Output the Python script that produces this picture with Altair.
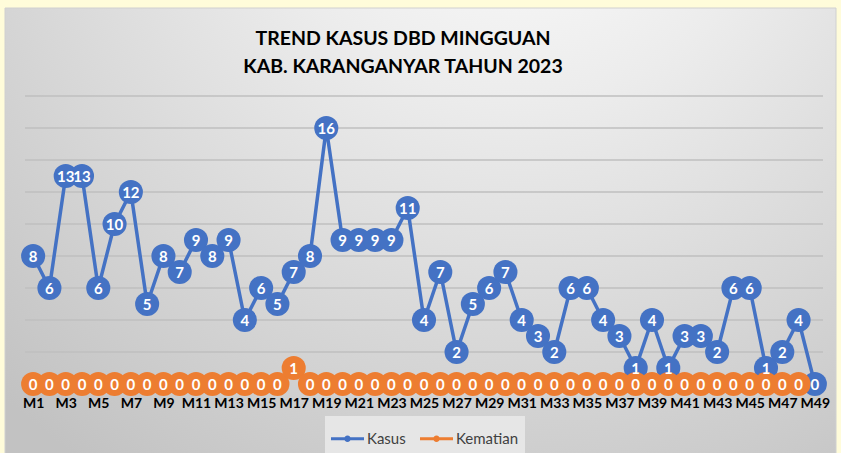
import altair as alt
import pandas as pd

weeks = ["M1", "M2", "M3", "M4", "M5", "M6", "M7", "M8", "M9", "M10",
         "M11", "M12", "M13", "M14", "M15", "M16", "M17", "M18", "M19", "M20",
         "M21", "M22", "M23", "M24", "M25", "M26", "M27", "M28", "M29", "M30",
         "M31", "M32", "M33", "M34", "M35", "M36", "M37", "M38", "M39", "M40",
         "M41", "M42", "M43", "M44", "M45", "M46", "M47", "M48", "M49"]
kasus = [8, 6, 13, 13, 6, 10, 12, 5, 8, 7,
         9, 8, 9, 4, 6, 5, 7, 8, 16, 9,
         9, 9, 9, 11, 4, 7, 2, 5, 6, 7,
         4, 3, 2, 6, 6, 4, 3, 1, 4, 1,
         3, 3, 2, 6, 6, 1, 2, 4, 0]
kematian = [0, 0, 0, 0, 0, 0, 0, 0, 0, 0,
            0, 0, 0, 0, 0, 0, 1, 0, 0, 0,
            0, 0, 0, 0, 0, 0, 0, 0, 0, 0,
            0, 0, 0, 0, 0, 0, 0, 0, 0, 0,
            0, 0, 0, 0, 0, 0, 0, 0, None]
series_names = ["Kasus", "Kematian"]
series_colors = ["#4472C4", "#ED7D31"]
y_ticks = [2, 4, 6, 8, 10, 12, 14, 16, 18]
x_labels = ["M1", "M3", "M5", "M7", "M9", "M11", "M13", "M15", "M17", "M19",
            "M21", "M23", "M25", "M27", "M29", "M31", "M33", "M35", "M37", "M39",
            "M41", "M43", "M45", "M47", "M49"]
title_lines = ["TREND KASUS DBD MINGGUAN", "KAB. KARANGANYAR TAHUN 2023"]

rows = []
for w, v in zip(weeks, kasus):
    rows.append({"week": w, "series": "Kasus", "value": v})
for w, v in zip(weeks, kematian):
    rows.append({"week": w, "series": "Kematian", "value": v})
df = pd.DataFrame(rows)
grid_df = pd.DataFrame({"tick": y_ticks})

FONT = "Lato"
W, H = 798, 288

x_enc = alt.X("week:O", sort=weeks,
              scale=alt.Scale(type="point", padding=0.5),
              axis=alt.Axis(values=x_labels, title=None, domain=False, ticks=False,
                            grid=False, labelAngle=0, labelFont=FONT,
                            labelFontWeight="bold", labelFontSize=14,
                            labelColor="#000000", labelPadding=19,
                            labelBaseline="middle", labelOverlap=False, zindex=1))
y_scale = alt.Scale(domain=[0, 18], nice=False, zero=True)
y_enc = alt.Y("value:Q", scale=y_scale, axis=None)
color_scale = alt.Scale(domain=series_names, range=series_colors)

legend_path = ("M-1,-0.09 L1,-0.09 L1,0.09 L-1,0.09 Z "
               "M0.2,0 A0.2,0.2 0 1,1 -0.2,0 A0.2,0.2 0 1,1 0.2,0 Z")
legend = alt.Legend(title=None, orient="none", legendX=300, legendY=320,
                    direction="horizontal", symbolType=legend_path, symbolSize=1089,
                    symbolStrokeWidth=0, symbolOpacity=1, labelFont=FONT,
                    labelFontSize=15, labelColor="#404040", fillColor="#e6e6e6",
                    padding=6, columnPadding=14, labelOffset=3)

bg = alt.Chart(alt.Data(values=[{"panel": 1}])).mark_rect(
    fill=alt.RadialGradient(
        gradient="radial",
        stops=[alt.GradientStop(color="#ffffff", offset=0),
               alt.GradientStop(color="#ececec", offset=0.35),
               alt.GradientStop(color="#c2c2c2", offset=1)],
        x1=0.62, y1=0.02, r1=0, x2=0.62, y2=0.02, r2=0.92),
    stroke="#d0d0d0", strokeWidth=1
).encode(x=alt.value(-20), x2=alt.value(811), y=alt.value(-88), y2=alt.value(362))

grid = alt.Chart(grid_df).mark_rule(color="#bfbfbf", strokeWidth=1.5).encode(
    y=alt.Y("tick:Q", scale=y_scale, axis=None))

base = alt.Chart(df)

def series_layers(name, col):
    sub = base.transform_filter(f"datum.series == '{name}' && datum.value != null")
    line = sub.mark_line(color=col, strokeWidth=3.5).encode(x=x_enc, y=y_enc)
    pts = sub.mark_circle(size=580, opacity=1).encode(
        x=x_enc, y=y_enc,
        color=alt.Color("series:N", scale=color_scale, legend=legend))
    txt = sub.mark_text(font=FONT, fontWeight="bold", fontSize=15, color="white",
                        align="center", baseline="middle", dy=1).encode(
        x=x_enc, y=y_enc, text=alt.Text("value:Q"))
    return line, pts, txt

k_line, k_pts, k_txt = series_layers("Kasus", series_colors[0])
m_line, m_pts, m_txt = series_layers("Kematian", series_colors[1])

chart = alt.layer(bg, grid, k_line, k_pts, m_line, m_pts, k_txt, m_txt).properties(
    width=W, height=H,
    title=alt.TitleParams(text=title_lines, font=FONT, fontSize=19.5, fontWeight="bold",
                          color="#000000", anchor="middle", frame="group",
                          lineHeight=28, dx=-21, dy=74),
    autosize=alt.AutoSizeParams(type="none"),
    padding={"left": 25, "top": 96, "right": 18, "bottom": 69},
    background="#FFFCDA",
).configure_view(stroke=None)

chart.save("out.html", embed_options={"renderer": "svg", "actions": False})
